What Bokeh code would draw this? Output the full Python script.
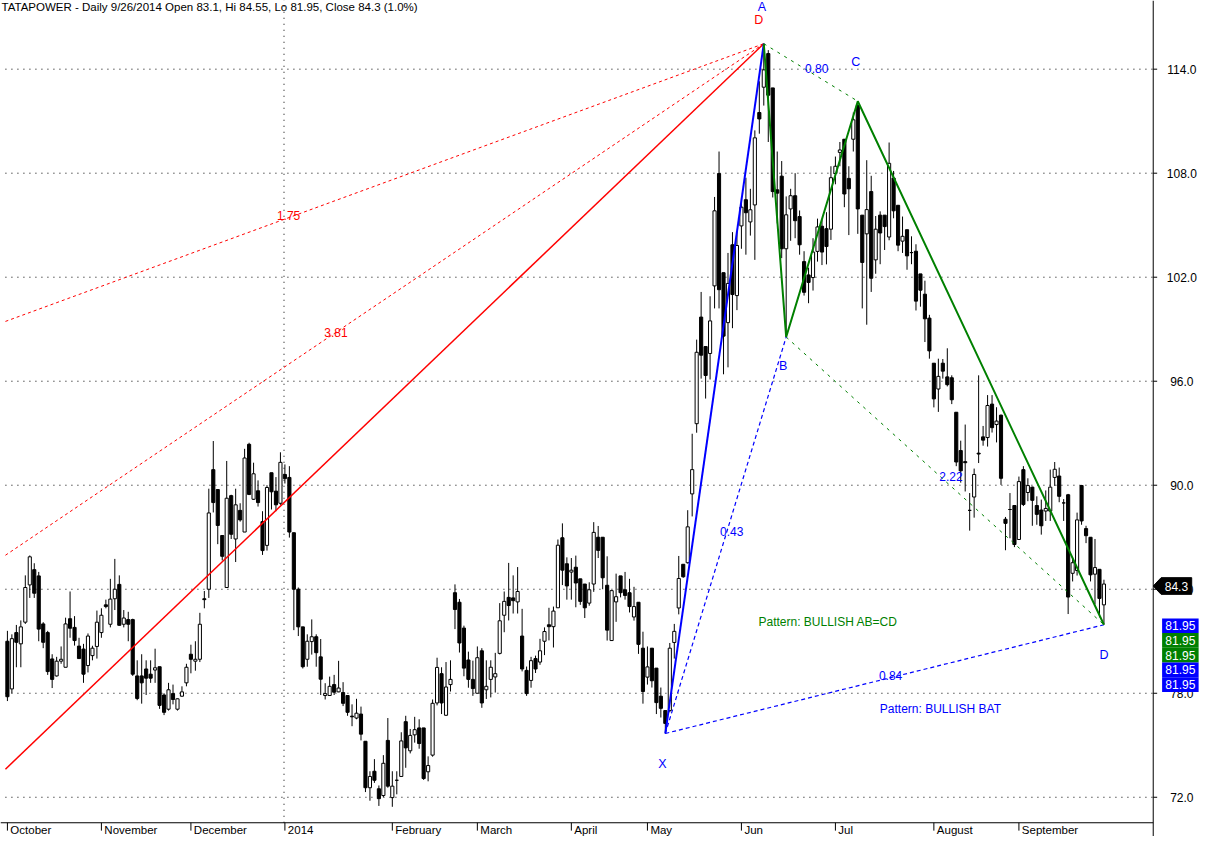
import numpy as np
from bokeh.plotting import figure
from bokeh.models import Range1d, ColumnDataSource
from bokeh.core.properties import value
from bokeh.embed import file_html
from bokeh.resources import INLINE

# ---------------- data ----------------
opens = [81.0, 78.25, 81.5, 80.85, 82.1, 84.25, 85.13, 84.77, 82.0, 81.5,
         79.98, 79.0, 79.85, 79.5, 82.3, 81.8, 80.72, 80.55, 79.6, 80.17,
         80.7, 81.5, 83.1, 81.98, 83.45, 84.28, 81.98, 82.25, 82.25, 79.0,
         79.0, 79.4, 79.1, 79.34, 79.53, 77.9, 77.08, 77.98, 77.08, 77.83,
         78.6, 80.25, 79.85, 79.96, 83.45, 84.0, 90.9, 89.75, 87.1, 84.1,
         89.4, 86.9, 88.55, 87.3, 92.36, 89.19, 89.68, 87.9, 86.53, 90.72,
         89.66, 88.96, 90.62, 90.45, 87.26, 84.0, 81.83, 79.96, 80.98, 81.26,
         80.1, 77.87, 77.87, 78.5, 78.08, 78.04, 77.87, 76.68, 76.57, 76.8,
         75.23, 72.55, 73.5, 72.49, 72.1, 75.28, 71.98, 72.98, 73.2, 76.36,
         74.68, 75.6, 76.0, 76.0, 73.47, 74.43, 77.44, 79.13, 76.73, 78.5,
         83.8, 83.25, 81.76, 79.92, 78.8, 78.0, 80.45, 78.2, 78.8, 78.94,
         80.3, 82.5, 83.53, 83.5, 83.27, 81.3, 79.32, 78.74, 80.0, 79.8,
         81.0, 81.95, 81.84, 82.93, 86.97, 85.47, 84.99, 85.27, 84.6, 84.3,
         83.2, 84.3, 87.0, 87.0, 84.23, 81.04, 83.27, 84.77, 83.97, 83.8,
         82.4, 83.25, 80.6, 78.93, 80.6, 79.45, 77.83, 77.0, 77.0, 80.93,
         82.92, 85.44, 85.53, 89.5, 93.55, 99.7, 98.0, 97.6, 101.5, 107.98,
         102.26, 99.38, 103.87, 100.94, 104.96, 106.47, 105.19, 106.17, 111.5, 112.96,
         114.9, 112.92, 107.04, 107.83, 103.64, 105.94, 106.7, 105.5, 102.9, 102.13,
         101.98, 103.49, 104.94, 104.8, 104.77, 107.98, 109.2, 109.96, 107.7, 109.96,
         111.9, 105.58, 104.5, 106.94, 103.0, 105.58, 105.58, 104.32, 107.72, 106.15,
         104.08, 104.74, 103.42, 103.5, 102.19, 101.02, 99.64, 97.04, 95.55, 97.04,
         96.25, 96.2, 94.21, 92.0, 91.36, 88.55, 89.32, 91.85, 92.79, 92.75,
         94.68, 93.5, 94.04, 88.04, 88.6, 88.83, 86.87, 90.9, 89.58, 89.89,
         88.83, 88.57, 88.51, 88.51, 90.45, 90.53, 88.98, 89.45, 84.92, 85.08,
         89.98, 87.5, 87.0, 84.87, 85.15, 83.1]
highs = [81.6, 81.4, 81.94, 82.2, 84.8, 85.95, 85.5, 85.0, 82.1, 81.6,
         80.25, 80.1, 80.7, 82.36, 83.87, 82.45, 81.2, 80.85, 81.45, 80.74,
         82.77, 82.9, 83.4, 84.6, 85.75, 84.8, 82.8, 82.7, 82.3, 79.9,
         80.25, 79.9, 79.9, 80.57, 79.53, 78.0, 78.6, 78.5, 77.7, 78.4,
         79.7, 80.8, 81.0, 82.64, 83.9, 89.8, 92.55, 89.75, 87.1, 91.4,
         89.45, 89.8, 88.96, 92.1, 92.45, 91.3, 90.28, 88.5, 90.0, 90.72,
         90.47, 91.9, 91.2, 91.1, 87.26, 84.1, 81.83, 81.4, 82.26, 81.4,
         81.13, 78.58, 78.96, 79.06, 79.87, 78.64, 77.87, 77.36, 77.68, 77.23,
         75.23, 73.5, 74.2, 72.68, 74.43, 76.57, 73.5, 73.5, 75.75, 76.7,
         75.94, 76.64, 76.5, 76.0, 74.36, 77.64, 80.05, 79.5, 79.8, 79.9,
         84.28, 83.44, 81.9, 80.4, 79.88, 80.7, 80.6, 79.9, 79.9, 80.33,
         83.2, 83.87, 85.52, 84.8, 85.28, 82.87, 79.54, 80.1, 80.17, 81.14,
         81.8, 82.93, 83.0, 86.87, 87.8, 85.84, 85.8, 85.94, 84.6, 84.3,
         84.4, 87.87, 87.65, 87.0, 85.9, 83.92, 84.9, 84.77, 85.0, 84.6,
         84.14, 83.25, 81.55, 80.7, 80.6, 79.45, 78.33, 77.0, 80.9, 82.0,
         85.92, 85.44, 88.56, 92.97, 98.4, 101.15, 98.0, 100.9, 106.63, 109.25,
         102.26, 103.4, 104.6, 104.66, 106.55, 107.74, 107.1, 110.47, 113.3, 115.47,
         115.1, 112.92, 109.25, 108.7, 106.66, 107.1, 108.0, 105.85, 103.5, 102.55,
         104.25, 105.38, 105.32, 105.75, 108.4, 108.96, 109.8, 109.96, 108.4, 111.5,
         112.15, 105.58, 108.75, 107.85, 105.53, 105.8, 105.58, 109.77, 108.13, 106.15,
         105.5, 104.74, 104.36, 103.9, 102.19, 101.8, 99.83, 97.04, 97.3, 97.28,
         97.9, 96.34, 94.21, 92.57, 93.5, 89.55, 90.96, 96.34, 93.42, 95.2,
         95.2, 94.5, 94.08, 88.17, 89.55, 88.83, 90.5, 91.1, 90.4, 89.92,
         89.36, 89.17, 89.7, 90.9, 91.34, 91.02, 89.2, 89.5, 85.77, 88.42,
         90.02, 87.66, 87.0, 86.9, 85.15, 84.55]
lows = [77.55, 78.0, 79.5, 79.5, 82.0, 83.5, 83.5, 81.0, 80.6, 79.06,
        78.3, 78.96, 79.7, 79.5, 81.2, 80.75, 80.0, 78.6, 79.2, 79.9,
        80.0, 81.2, 82.9, 81.8, 82.8, 81.9, 81.8, 81.0, 79.0, 77.6,
        77.4, 77.9, 78.6, 78.6, 77.1, 76.74, 77.0, 77.36, 77.0, 77.8,
        78.4, 79.15, 79.3, 79.8, 82.9, 83.5, 88.43, 86.6, 85.66, 84.1,
        86.9, 85.57, 87.9, 87.3, 89.43, 89.15, 88.77, 85.98, 86.23, 88.6,
        88.5, 88.87, 90.1, 86.98, 81.64, 81.3, 79.43, 79.53, 80.23, 79.53,
        77.9, 77.64, 77.87, 77.9, 78.06, 77.26, 76.7, 76.1, 76.5, 75.28,
        72.3, 71.8, 72.83, 71.5, 72.0, 72.55, 71.45, 72.17, 73.2, 73.7,
        74.53, 75.15, 74.8, 73.0, 72.92, 74.34, 77.3, 76.8, 76.7, 78.1,
        81.7, 80.35, 78.98, 78.32, 77.85, 78.0, 77.16, 77.67, 77.76, 78.04,
        80.24, 81.52, 82.2, 82.6, 82.6, 79.26, 77.85, 78.32, 79.17, 79.64,
        80.2, 81.05, 80.64, 82.93, 84.24, 83.4, 83.4, 82.96, 83.1, 82.34,
        83.05, 83.85, 85.8, 84.0, 81.04, 81.04, 82.12, 83.53, 83.4, 82.66,
        82.19, 80.27, 77.4, 78.5, 78.33, 76.8, 76.6, 75.68, 76.9, 80.0,
        82.55, 84.66, 85.48, 88.2, 93.03, 96.15, 95.0, 96.1, 100.2, 100.2,
        96.4, 96.8, 99.06, 100.1, 103.64, 103.3, 104.4, 103.0, 110.28, 111.9,
        109.8, 106.6, 105.1, 103.1, 98.55, 104.1, 104.25, 103.3, 100.94, 100.5,
        101.23, 102.9, 102.7, 102.74, 104.15, 107.36, 108.4, 106.04, 104.43, 109.25,
        104.5, 100.2, 99.26, 101.15, 102.2, 102.75, 103.57, 104.13, 105.4, 103.5,
        103.4, 102.43, 102.75, 100.08, 100.3, 98.26, 97.3, 94.49, 94.23, 96.15,
        95.7, 94.68, 91.1, 90.15, 89.64, 87.38, 88.13, 91.28, 92.28, 92.23,
        93.04, 92.47, 90.02, 86.25, 86.94, 86.43, 86.87, 88.8, 89.08, 87.66,
        87.72, 87.15, 87.94, 87.94, 89.96, 89.02, 87.94, 82.57, 84.45, 84.79,
        87.72, 86.66, 84.45, 83.13, 82.38, 81.95]
closes = [77.8, 81.15, 80.94, 81.83, 84.1, 85.87, 83.77, 81.7, 80.94, 79.25,
          78.8, 79.85, 79.96, 82.0, 81.75, 81.04, 80.0, 79.1, 81.3, 80.6,
          82.1, 82.5, 83.0, 83.43, 84.0, 81.92, 82.34, 81.98, 79.1, 77.7,
          78.6, 78.87, 78.87, 79.47, 77.3, 76.9, 78.2, 77.64, 77.68, 78.08,
          79.5, 79.96, 79.96, 81.98, 83.4, 88.4, 89.0, 87.68, 85.9, 89.25,
          87.17, 88.87, 88.0, 91.57, 89.47, 90.66, 89.0, 86.23, 89.87, 89.62,
          88.87, 91.32, 90.38, 87.3, 84.0, 81.83, 79.53, 81.0, 81.26, 80.34,
          78.81, 77.98, 78.4, 78.06, 78.3, 77.42, 76.9, 76.64, 76.85, 75.64,
          72.55, 73.2, 72.98, 71.92, 73.96, 72.64, 72.64, 72.98, 75.25, 74.85,
          75.57, 75.9, 75.1, 73.08, 73.83, 77.42, 79.49, 77.44, 78.36, 78.8,
          82.83, 80.9, 79.45, 78.8, 78.27, 80.05, 77.44, 78.4, 79.5, 79.13,
          82.18, 83.3, 83.06, 83.34, 83.87, 79.4, 77.98, 79.88, 79.4, 80.45,
          81.56, 81.84, 82.74, 86.54, 85.1, 84.19, 85.1, 84.36, 83.3, 82.93,
          83.97, 87.28, 86.24, 84.66, 81.64, 83.92, 83.57, 83.8, 83.64, 83.0,
          83.0, 80.82, 78.1, 79.52, 78.72, 77.46, 77.13, 76.26, 80.6, 81.57,
          84.62, 84.72, 87.6, 90.9, 97.67, 97.5, 96.33, 99.48, 105.83, 101.28,
          98.6, 101.64, 101.0, 103.83, 106.04, 105.72, 105.89, 110.04, 111.13, 113.96,
          112.5, 106.94, 106.85, 103.64, 105.6, 106.7, 105.26, 103.87, 101.13, 101.7,
          103.45, 104.9, 103.45, 103.77, 107.74, 108.4, 109.34, 106.8, 107.1, 111.08,
          105.94, 102.85, 105.9, 101.94, 104.77, 104.55, 104.92, 108.57, 105.83, 103.85,
          104.36, 103.23, 103.42, 100.62, 101.25, 99.6, 97.75, 94.98, 96.28, 96.58,
          95.8, 94.93, 91.34, 90.83, 91.3, 88.55, 90.62, 91.8, 92.6, 94.6,
          93.32, 93.7, 90.4, 87.8, 88.6, 86.58, 90.21, 88.89, 89.98, 89.13,
          88.32, 87.66, 88.66, 89.89, 90.92, 89.36, 88.98, 83.55, 85.53, 88.0,
          87.94, 87.09, 84.83, 85.25, 83.47, 84.3]

month_names = ["October", "November", "December", "2014", "February", "March",
               "April", "May", "Jun", "Jul", "August", "September"]
month_start_bar = [0, 21, 41, 62, 86, 105, 126, 143, 164, 185, 207, 226]
year_break_bar = 61.8
price_ticks = [72, 78, 84, 90, 96, 102, 108, 114]
price_tick_labels = ["72.0", "78.0", "84.0", "90.0", "96.0", "102.0", "108.0", "114.0"]

# harmonic pattern pivots (bar index); prices come from the candles
pivot_X, pivot_A, pivot_B, pivot_C, pivot_D = 147, 169, 174, 190, 245
bat_ratio_XB, bat_ratio_XD = "0.43", "0.84"
abcd_ratio_AC, abcd_ratio_BD = "0.80", "2.22"

# red projection lines entering from the left edge and meeting at A
red_left_prices = [73.62, 85.96, 99.45]
red_ratio_text = ["", "3.81", "1.75"]
red_label_bar = [None, 72.1, 61.5]

title_text = "TATAPOWER - Daily 9/26/2014 Open 83.1, Hi 84.55, Lo 81.95, Close 84.3 (1.0%)"
last_close = closes[-1]
d_box_texts = ["81.95", "81.95", "81.95", "81.95", "81.95"]

# ---------------- layout helpers (reference pixel -> data) ----------------
PX_BAR = 4.535      # pixels per bar
PX_PRICE = 17.667   # pixels per price unit


def bx(px):
    return (px - 7) / PX_BAR


def py(px):
    return 114 - (px - 70) / PX_PRICE


def dxp(px):
    return px / PX_BAR


def dyp(px):
    return px / PX_PRICE


FRAME_LEFT = bx(5)
AX_RIGHT = bx(1168)
AX_BOTTOM = py(838)
FONT = "Liberation Sans"
BLUE, GREEN, RED = "#0000FF", "#008000", "#FF0000"

p = figure(width=1207, height=836, x_range=Range1d(bx(0), bx(1223)), y_range=Range1d(py(852), py(0)),
           x_axis_location=None, y_axis_location=None, toolbar_location=None, output_backend="svg",
           min_border=0, background_fill_color="white", border_fill_color="white",
           outline_line_color=None)
p.grid.visible = False


def add_text(xs, ys, texts, color, size="12px", align="center", baseline="middle"):
    p.text(x=list(xs), y=list(ys), text=list(texts), text_color=color,
           text_font=value(FONT), text_font_size=value(size),
           text_align=align, text_baseline=baseline)


# ---------------- dotted grid ----------------
p.segment(x0=[FRAME_LEFT] * len(price_ticks), y0=price_ticks, x1=[AX_RIGHT] * len(price_ticks),
          y1=price_ticks, line_color="black", line_width=1, line_dash="1 5")
p.segment(x0=[year_break_bar], y0=[AX_BOTTOM], x1=[year_break_bar], y1=[py(0)],
          line_color="black", line_width=1, line_dash="1 5")

# ---------------- candles ----------------
o = np.array(opens)
c = np.array(closes)
idx = np.arange(len(opens))
src = ColumnDataSource(dict(x=idx, high=highs, low=lows,
                            top=np.maximum(o, c), bottom=np.minimum(o, c),
                            fill=np.where(c >= o, "white", "black")))
p.segment(x0="x", y0="low", x1="x", y1="high", source=src, line_color="black", line_width=1)
p.vbar(x="x", width=0.7, top="top", bottom="bottom", fill_color="fill",
       line_color="black", line_width=1, source=src)

# ---------------- pattern lines ----------------
X = (pivot_X, lows[pivot_X])
A = (pivot_A, highs[pivot_A])
B = (pivot_B, lows[pivot_B])
C = (pivot_C, highs[pivot_C])
D = (pivot_D, lows[pivot_D])

for k, lp in enumerate(red_left_prices):
    if k == 0:
        p.line([FRAME_LEFT, A[0]], [lp, A[1]], line_color=RED, line_width=1.5)
    else:
        p.line([FRAME_LEFT, A[0]], [lp, A[1]], line_color=RED, line_width=1, line_dash="3 3")

p.line([A[0], C[0]], [A[1], C[1]], line_color=GREEN, line_width=1, line_dash="3 5")
p.line([B[0], D[0]], [B[1], D[1]], line_color=GREEN, line_width=1, line_dash="3 5")
p.line([X[0], B[0]], [X[1], B[1]], line_color=BLUE, line_width=1.2, line_dash="4 3")
p.line([X[0], D[0]], [X[1], D[1]], line_color=BLUE, line_width=1.2, line_dash="4 3")
p.line([X[0], A[0]], [X[1], A[1]], line_color=BLUE, line_width=2)
p.line([A[0], B[0], C[0], D[0]], [A[1], B[1], C[1], D[1]], line_color=GREEN, line_width=2)


def mid(P, Q):
    return ((P[0] + Q[0]) / 2 + dxp(6), (P[1] + Q[1]) / 2 + dyp(4))


ratio_pts = [mid(X, B), mid(X, D), mid(A, C), mid(B, D)]
add_text([q[0] for q in ratio_pts], [q[1] for q in ratio_pts],
         [bat_ratio_XB, bat_ratio_XD, abcd_ratio_AC, abcd_ratio_BD], BLUE)

red_lx, red_ly, red_lt = [], [], []
for k in (1, 2):
    bxk = red_label_bar[k]
    lp = red_left_prices[k]
    yy = lp + (A[1] - lp) * (bxk - FRAME_LEFT) / (A[0] - FRAME_LEFT)
    red_lx.append(bxk + dxp(6))
    red_ly.append(yy + dyp(4))
    red_lt.append(red_ratio_text[k])
add_text(red_lx, red_ly, red_lt, RED)

add_text([A[0] - dxp(2), C[0] - dxp(2), B[0] - dxp(3), X[0] - dxp(3), D[0]],
         [A[1] + dyp(37), C[1] + dyp(40), B[1] - dyp(30), X[1] - dyp(31), D[1] - dyp(31)],
         ["A", "C", "B", "X", "D"], BLUE, size="12.5px")
add_text([A[0] - dxp(5)], [A[1] + dyp(24)], ["D"], RED, size="12.5px")

add_text([bx(768)], [py(633)], ["Pattern: BULLISH AB=CD"], GREEN, align="left")
add_text([bx(891)], [py(722)], ["Pattern: BULLISH BAT"], BLUE, align="left")

# title
add_text([bx(1)], [py(1)], [title_text], "black", size="11.5px", align="left", baseline="top")

# ---------------- axes (drawn) ----------------
p.segment(x0=[bx(0)], y0=[AX_BOTTOM], x1=[AX_RIGHT], y1=[AX_BOTTOM], line_color="black", line_width=1)
p.segment(x0=[AX_RIGHT], y0=[py(852)], x1=[AX_RIGHT], y1=[py(0)], line_color="black", line_width=1)
# month ticks + labels
p.segment(x0=month_start_bar, y0=[AX_BOTTOM] * len(month_start_bar), x1=month_start_bar,
          y1=[AX_BOTTOM - dyp(8)] * len(month_start_bar), line_color="black", line_width=1)
add_text([m + dxp(3) for m in month_start_bar], [AX_BOTTOM - dyp(7.5)] * len(month_start_bar),
         month_names, "black", size="11.5px", align="left")
# price ticks + labels
p.segment(x0=[AX_RIGHT] * len(price_ticks), y0=price_ticks, x1=[AX_RIGHT + dxp(4)] * len(price_ticks),
          y1=price_ticks, line_color="black", line_width=1)
add_text([bx(1197)] * len(price_ticks), price_ticks, price_tick_labels, "black")

# ---------------- price boxes on the right ----------------
cy = last_close - dyp(2)
p.patch(x=[AX_RIGHT, bx(1176), bx(1207), bx(1207), bx(1176)],
        y=[cy, cy + dyp(8.5), cy + dyp(8.5), cy - dyp(8.5), cy - dyp(8.5)],
        fill_color="black", line_color="black")
add_text([bx(1191.5)], [cy], [f"{last_close:.1f}"], "white")

box_colors = [BLUE, GREEN, GREEN, BLUE, BLUE]
box_y = [D[1] - dyp(1) - dyp(15) * k for k in range(len(d_box_texts))]
p.rect(x=[bx(1195.5)] * len(box_y), y=box_y, width=dxp(37), height=dyp(15),
       fill_color=box_colors, line_color=None)
add_text([bx(1195.5)] * len(box_y), box_y, d_box_texts, "white")

open("out.html", "w").write(file_html(p, INLINE))
